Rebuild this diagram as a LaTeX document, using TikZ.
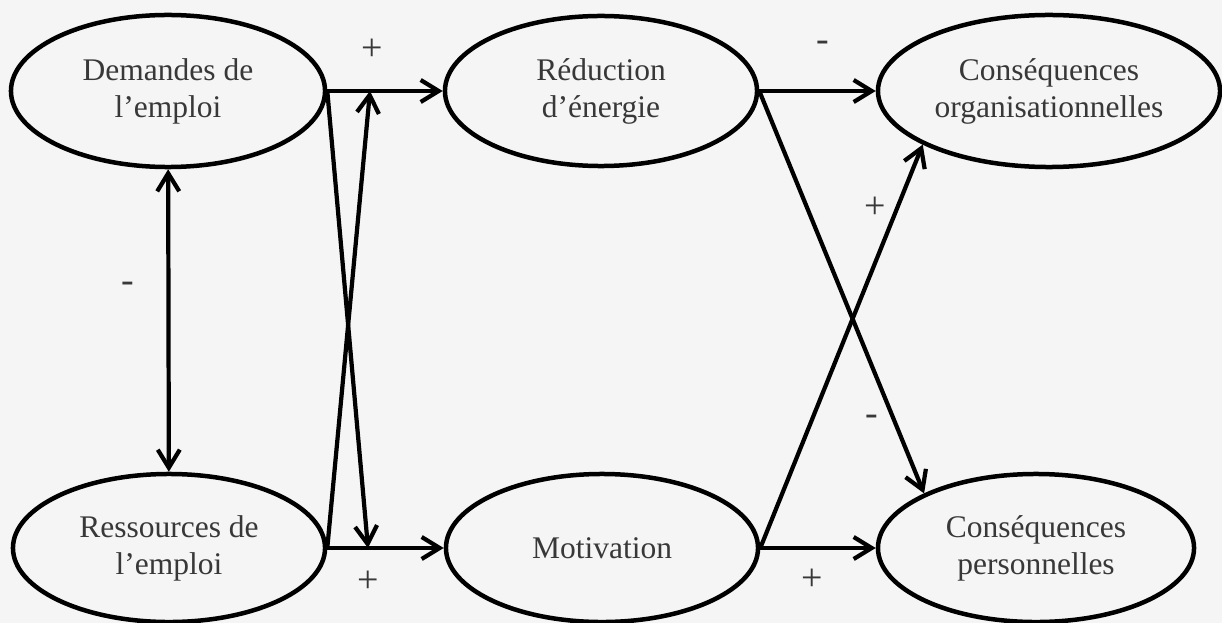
\documentclass[tikz,border=0pt]{standalone}
\usepackage{fontspec}
\setmainfont{Liberation Serif}
\usetikzlibrary{shapes.geometric,arrows.meta}

\begin{document}
\begin{tikzpicture}[x=0.025cm,y=-0.025cm,
    box/.style={ellipse,draw,line width=3.2pt,inner sep=0pt,align=center,
      text=black!78,font=\fontsize{22.4}{26.3}\selectfont},
    link/.style={line width=3pt,-{Straight Barb[length=0.45cm,width=0.55cm,line width=3pt]}},
    both/.style={line width=3pt,{Straight Barb[length=0.45cm,width=0.55cm,line width=3pt]}-{Straight Barb[length=0.45cm,width=0.55cm,line width=3pt]}},
    sign/.style={text=black!78,font=\fontsize{27}{30}\selectfont}]
    % Background and frame
    \fill[black!4] (0,0) rectangle (1222,623);
    \useasboundingbox (0,0) rectangle (1222,623);

    % Left column
    \node[box,minimum width=7.85cm,minimum height=3.8cm] (dem) at (168,91) {Demandes de\\l’emploi};
    \node[box,minimum width=7.8cm,minimum height=3.7cm] (res) at (169,548) {Ressources de\\l’emploi};

    % Middle column
    \node[box,minimum width=7.8cm,minimum height=3.75cm] (red) at (601,91) {Réduction\\d’énergie};
    \node[box,minimum width=7.8cm,minimum height=3.7cm] (mot) at (602,548) {Motivation};

    % Right column
    \node[box,minimum width=8.55cm,minimum height=3.8cm] (org) at (1049,91) {Conséquences\\organisationnelles};
    \node[box,minimum width=7.9cm,minimum height=3.7cm] (per) at (1036,548) {Conséquences\\personnelles};

    % Points where the crossing arrows land
    \coordinate (up) at (370,91);
    \coordinate (lo) at (368,548);

    % Left links
    \draw[both] (dem) -- (res);
    \draw[link] (dem.east) -- (red.west);
    \draw[link] (res.east) -- (mot.west);
    \draw[link] (dem.east) -- (lo);
    \draw[link] (res.east) -- (up);

    % Right links
    \draw[link] (red.east) -- (org.west);
    \draw[link] (mot.east) -- (per.west);
    \draw[link] (red.east) -- (per.154);
    \draw[link] (mot.east) -- (org.203);

    % Signs
    \node[sign] (s1) at (128,287) {-};
    \node[sign] (s2) at (372,50) {+};
    \node[sign] (s3) at (368,582) {+};
    \node[sign] (s4) at (823,46) {-};
    \node[sign] (s5) at (812,580) {+};
    \node[sign] (s6) at (875,208) {+};
    \node[sign] (s7) at (872,420) {-};
  \end{tikzpicture}
\end{document}
